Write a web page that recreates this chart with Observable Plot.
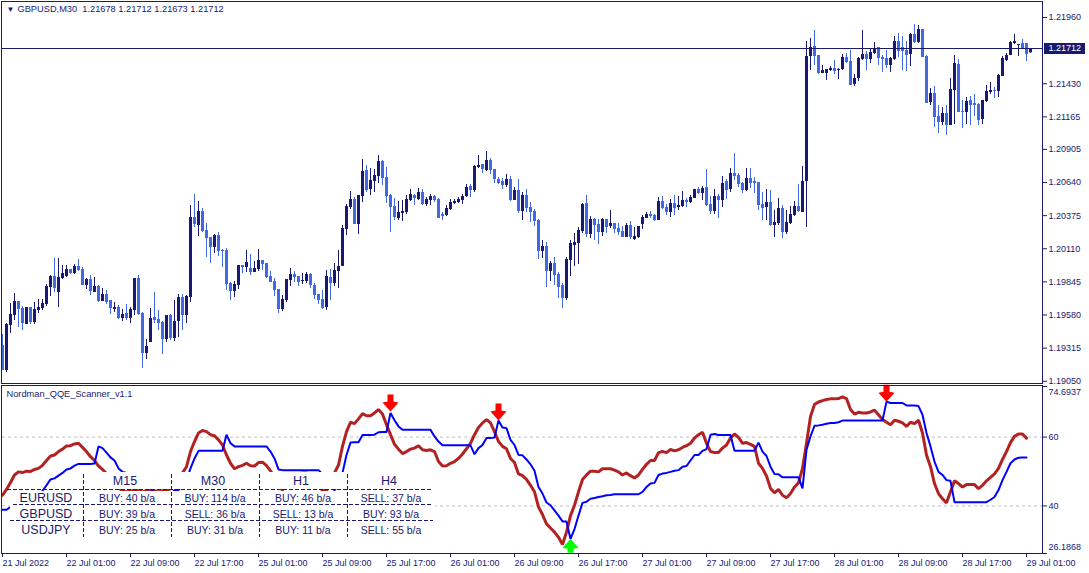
<!DOCTYPE html>
<html><head><meta charset="utf-8">
<script src="https://cdn.jsdelivr.net/npm/d3@7"></script>
<script src="https://cdn.jsdelivr.net/npm/@observablehq/plot@0.6"></script>
<style>
html,body{margin:0;padding:0;background:#fff;overflow:hidden}
#wrap{position:relative;width:1089px;height:573px;font-family:"Liberation Sans",Arial,sans-serif;color:#191970}
#wrap svg{position:absolute;left:0;display:block;overflow:visible}
.paper{position:absolute;background:#fff}
.cell{position:absolute;text-align:center;white-space:nowrap;line-height:16px;height:16px}
.dh{position:absolute;height:1px;background:repeating-linear-gradient(90deg,#191970 0 4px,transparent 4px 6px)}
.dv{position:absolute;width:1px;background:repeating-linear-gradient(180deg,#191970 0 4px,transparent 4px 6px)}
</style></head><body><div id="wrap"></div>
<script>
// GBPUSD M30 prices, in points above 1.19000
const basePrice = 1.19;
const opens = [336,136,496,576,688,632,504,640,520,616,
632,664,800,888,760,872,888,944,912,968,
944,816,864,760,808,688,744,696,624,640,
552,592,552,616,872,592,272,360,560,544,
520,384,576,392,528,720,576,720,1360,1296,
1408,1256,1200,1120,1216,1096,1096,832,768,816,
976,960,952,920,944,1016,992,888,848,784,
624,696,856,904,888,848,848,904,816,744,
704,640,880,832,928,968,1264,1440,1504,1304,
1528,1736,1584,1648,1688,1808,1680,1536,1448,1352,
1392,1400,1496,1536,1504,1560,1464,1496,1528,1504,
1384,1376,1424,1472,1480,1496,1528,1608,1576,1760,
1784,1736,1816,1744,1664,1648,1616,1664,1496,1576,
1408,1536,1440,1408,1336,1088,1128,928,992,904,
816,712,1016,1136,1152,1248,1472,1224,1344,1304,
1240,1344,1288,1312,1272,1248,1200,1296,1184,1200,
1304,1352,1384,1376,1336,1488,1440,1400,1472,1440,
1448,1496,1480,1512,1584,1552,1600,1464,1408,1528,
1496,1648,1584,1712,1696,1632,1576,1672,1648,1640,
1464,1440,1480,1296,1312,1432,1240,1312,1376,1448,
1400,1648,2648,2728,2656,2512,2512,2536,2552,2536,
2544,2640,2608,2424,2472,2624,2664,2624,2672,2720,
2640,2632,2576,2624,2768,2720,2696,2664,2824,2760,
2864,2648,2280,2352,2168,2120,2192,2096,2376,2584,
2208,2200,2296,2272,2264,2144,2288,2360,2376,2368,
2488,2616,2656,2752,2736,2752,2752,2678];
const closes = [136,504,584,688,624,512,640,520,624,640,
672,808,888,792,880,912,944,912,968,936,
816,864,768,808,688,744,680,632,640,552,
584,552,624,872,584,272,328,552,536,512,
384,576,392,528,720,576,728,1360,1304,1408,
1248,1192,1120,1216,1088,1088,824,768,824,976,
960,1000,920,952,1016,984,880,840,776,624,
704,864,904,880,840,856,904,816,736,696,
632,888,832,936,968,1272,1448,1504,1304,1536,
1728,1576,1656,1696,1808,1672,1528,1440,1360,1400,
1408,1504,1544,1512,1560,1464,1504,1528,1496,1352,
1368,1432,1480,1488,1504,1528,1600,1576,1768,1776,
1744,1816,1736,1664,1632,1616,1664,1496,1576,1408,
1536,1432,1400,1328,1088,1128,928,992,896,800,
712,1024,1152,1160,1256,1464,1224,1344,1296,1240,
1344,1280,1312,1264,1240,1200,1296,1200,1208,1288,
1360,1384,1368,1336,1488,1432,1400,1472,1432,1456,
1496,1480,1520,1584,1552,1592,1456,1408,1528,1496,
1632,1576,1712,1688,1624,1576,1672,1632,1632,1456,
1432,1480,1296,1320,1432,1240,1320,1384,1448,1408,
1648,2648,2720,2648,2512,2536,2544,2552,2528,2544,
2640,2600,2416,2472,2632,2664,2624,2680,2704,2632,
2624,2576,2632,2768,2688,2688,2656,2824,2760,2864,
2640,2272,2352,2160,2120,2192,2096,2384,2592,2200,
2200,2288,2256,2256,2136,2296,2368,2376,2368,2496,
2632,2656,2760,2768,2744,2704,2664,2712];
const highs = [424,512,672,752,688,648,640,640,680,704,
704,824,896,1032,1032,976,976,944,984,1024,
960,872,896,880,816,792,776,696,680,656,
624,664,640,872,896,600,384,632,760,616,
528,576,584,696,744,744,736,1456,1544,1488,
1432,1312,1200,1224,1240,1104,1112,840,848,976,
976,1096,1064,1008,1104,1016,992,928,872,784,
736,864,952,928,888,912,920,912,832,744,
776,936,944,992,1096,1296,1464,1568,1520,1536,
1824,1776,1752,1744,1856,1816,1760,1544,1512,1488,
1496,1536,1584,1544,1592,1584,1520,1544,1536,1512,
1400,1456,1504,1504,1520,1544,1624,1624,1776,1856,
1784,1888,1832,1744,1680,1672,1704,1688,1600,1664,
1560,1584,1480,1424,1344,1176,1160,1008,1040,920,
832,1040,1176,1232,1280,1472,1536,1368,1352,1344,
1352,1344,1416,1312,1312,1288,1312,1328,1280,1288,
1376,1400,1408,1384,1520,1528,1464,1504,1536,1528,
1568,1512,1536,1584,1600,1608,1744,1528,1584,1544,
1688,1664,1752,1872,1712,1640,1752,1752,1680,1640,
1560,1584,1576,1416,1512,1456,1416,1448,1488,1624,
1768,2768,2792,2856,2656,2576,2544,2568,2616,2552,
2664,2672,2696,2504,2640,2856,2688,2712,2760,2720,
2656,2696,2640,2808,2832,2808,2768,2832,2904,2896,
2864,2656,2392,2408,2256,2240,2256,2472,2656,2624,
2296,2320,2328,2344,2272,2296,2416,2440,2400,2504,
2648,2672,2768,2824,2744,2784,2752,2712];
const lows = [136,120,432,536,480,456,504,504,504,592,
616,648,728,760,640,864,880,904,904,928,
816,784,736,760,680,688,664,584,600,544,
528,536,512,576,576,152,224,360,512,456,
264,360,376,368,400,456,512,680,1280,1208,
1240,1040,992,1072,1048,960,776,696,720,784,
912,920,896,920,928,936,872,840,728,592,
608,680,808,840,808,824,832,792,704,664,
624,616,696,808,792,968,1216,1424,1304,1224,
1480,1560,1536,1560,1632,1616,1472,1240,1336,1336,
1328,1384,1488,1456,1496,1456,1448,1456,1480,1352,
1336,1368,1416,1464,1472,1464,1520,1520,1560,1752,
1712,1728,1704,1632,1624,1584,1600,1488,1496,1392,
1336,1400,1320,1288,1024,1032,800,848,816,712,
632,696,888,968,984,1232,1200,1192,1176,1144,
1208,1232,1272,1232,1216,1200,1200,1184,1176,1192,
1264,1352,1352,1328,1336,1424,1376,1360,1376,1416,
1440,1440,1472,1512,1544,1496,1448,1384,1384,1352,
1440,1504,1560,1656,1600,1552,1568,1592,1552,1416,
1336,1336,1288,1200,1296,1192,1224,1304,1368,1400,
1400,1280,2536,2576,2504,2512,2456,2528,2504,2464,
2536,2592,2416,2408,2448,2616,2536,2592,2664,2576,
2520,2552,2520,2616,2640,2536,2528,2568,2752,2752,
2640,2272,2256,2080,2032,2096,2016,2096,2104,2200,
2072,2104,2096,2168,2096,2104,2280,2344,2312,2320,
2488,2608,2656,2744,2648,2704,2608,2673];
// QQE lines
const qqeFast = [43.1,44.8,46.8,49.0,49.9,49.7,50.1,50.0,50.6,50.9,
51.8,53.2,54.5,54.8,55.8,56.5,57.4,57.5,58.0,58.2,
57.0,55.8,54.3,53.2,51.6,50.6,49.4,48.0,46.5,45.3,
44.4,44.1,44.3,44.6,44.4,44.1,44.4,44.6,44.4,44.1,
44.4,44.6,45.0,46.0,47.5,49.6,51.4,55.8,58.7,61.2,
61.9,61.6,60.7,60.4,59.2,57.7,54.8,52.4,50.8,51.4,
51.8,52.4,51.7,51.6,52.6,52.7,51.7,50.2,48.5,46.5,
44.6,46.0,47.5,48.5,49.2,49.6,49.6,48.7,47.0,45.5,
44.6,44.4,47.5,49.6,51.9,57.3,61.6,64.3,63.9,65.3,
66.8,66.2,66.2,67.0,68.0,66.7,63.6,60.7,57.9,56.5,
55.2,55.8,56.5,56.8,57.5,56.3,56.1,56.3,55.8,52.9,
51.6,51.7,52.4,52.9,53.8,55.1,56.6,58.2,60.7,62.8,
64.1,65.1,64.1,61.6,58.7,57.3,56.6,53.8,52.6,49.3,
48.8,47.7,46.0,44.1,39.7,37.5,34.8,33.6,32.4,30.9,
28.8,32.4,37.2,40.2,44.1,47.7,49.0,50.1,50.1,49.9,
50.8,50.8,50.8,50.4,49.9,49.0,49.6,48.8,48.1,49.0,
50.6,52.1,53.2,53.2,55.5,55.8,55.5,56.4,56.0,56.3,
57.0,57.5,58.2,59.7,60.7,61.4,58.2,55.8,55.5,55.5,
56.8,57.7,59.7,60.9,59.9,58.2,58.4,57.9,57.3,52.4,
50.9,48.7,45.1,43.8,44.8,43.1,42.4,43.6,45.5,46.7,
50.9,58.2,66.0,69.5,70.2,70.6,70.9,71.1,71.1,71.2,
71.7,71.2,68.0,66.7,67.2,67.0,67.0,67.3,67.8,66.5,
65.1,64.3,63.6,64.9,64.6,64.1,63.1,64.3,63.9,64.9,
61.2,54.8,51.4,46.5,43.6,42.1,40.9,44.1,47.3,46.5,
45.5,46.2,46.2,46.2,45.0,46.0,47.3,48.3,49.3,50.9,
53.5,55.8,58.4,60.2,60.9,60.9,59.7];
const qqeSlow = [38.9,38.9,39.7,40.7,41.6,42.1,42.6,42.6,42.8,43.1,
44.4,46.0,47.7,48.0,48.8,49.6,50.6,50.9,51.7,52.2,
52.2,52.2,52.2,52.3,57.3,56.8,55.5,54.1,53.2,50.9,
49.9,49.6,49.6,49.6,49.6,49.6,47.5,45.5,43.4,43.4,
43.4,43.4,43.4,44.6,44.6,46.0,47.5,50.9,53.8,56.0,
56.0,56.0,56.0,56.0,56.0,56.0,60.7,58.2,57.3,57.3,
57.3,57.3,57.3,57.3,57.3,57.3,57.3,55.8,53.8,50.6,
50.4,50.4,50.4,50.4,50.4,50.4,50.4,50.4,50.4,50.4,
49.3,47.5,45.5,44.6,46.0,49.6,54.8,58.4,58.5,58.5,
60.6,60.6,60.6,60.7,61.4,61.5,61.5,67.0,64.9,63.1,
62.1,62.1,62.1,62.1,62.1,62.1,62.1,62.1,60.2,58.7,
57.6,57.6,57.6,57.6,57.6,57.6,57.6,57.6,55.0,56.8,
57.7,59.7,59.7,59.9,64.8,62.8,62.6,59.2,57.7,54.8,
54.7,53.5,52.1,50.2,45.5,43.6,41.0,40.2,38.7,37.2,
35.5,35.5,30.4,33.3,37.2,40.9,41.2,42.1,42.3,42.6,
42.8,43.1,43.2,43.4,43.4,43.4,43.4,43.4,43.4,43.4,
44.1,45.5,46.5,46.7,49.0,49.4,49.6,49.9,50.2,50.4,
51.4,51.6,53.2,54.8,54.8,56.0,56.5,60.7,60.9,60.6,
60.6,60.6,60.6,56.0,56.0,56.0,56.0,56.0,56.0,58.4,
55.8,54.5,51.4,49.3,49.2,48.3,48.3,48.3,48.3,48.3,
45.1,56.3,60.2,63.3,63.4,63.6,63.9,64.1,64.1,64.3,
64.8,64.8,64.8,64.8,64.8,64.8,64.8,64.8,64.8,64.8,
64.8,70.3,69.9,69.9,69.9,69.9,69.2,69.2,69.2,69.0,
66.5,61.2,57.3,52.9,49.9,49.0,47.5,47.3,41.1,41.1,
41.1,41.1,41.1,41.1,41.1,41.1,41.1,41.8,42.6,44.6,
47.5,49.9,52.4,53.5,54.0,54.1,54.1];
// signal arrows
const sellBars = [97,124,221];
const sellLevels = [67.4,64.8,70.3];
const buyBars = [142];
const buyLevels = [30.5];
// axis labels
const priceTicks = [1.2196,1.2143,1.21165,1.20905,1.2064,1.20375,1.2011,1.19845,1.1958,1.19315,1.1905];
const lastPrice = 1.21712;
const qqeLevels = [60,40];
const qqeMax = 74.6937, qqeMin = 26.1868;
const timeBars = [0,16,32,48,64,80,96,112,128,144,160,176,192,208,224,240,256];
const timeLabels = ["21 Jul 2022","22 Jul 01:00","22 Jul 09:00","22 Jul 17:00","25 Jul 01:00","25 Jul 09:00","25 Jul 17:00","26 Jul 01:00","26 Jul 09:00","26 Jul 17:00","27 Jul 01:00","27 Jul 09:00","27 Jul 17:00","28 Jul 01:00","28 Jul 09:00","28 Jul 17:00","29 Jul 01:00"];
// scanner table
const scanFrames = ["M15","M30","H1","H4"];
const scanPairs = ["EURUSD","GBPUSD","USDJPY"];
const scanCells = [
 ["BUY: 40 b/a","BUY: 114 b/a","BUY: 46 b/a","SELL: 37 b/a"],
 ["BUY: 39 b/a","SELL: 36 b/a","SELL: 13 b/a","BUY: 93 b/a"],
 ["BUY: 25 b/a","BUY: 31 b/a","BUY: 11 b/a","SELL: 55 b/a"]];
const chartTitle = "GBPUSD,M30  1.21678 1.21712 1.21673 1.21712";
const indicatorTitle = "Nordman_QQE_Scanner_v1.1";

const NAVY="#191970", ROYAL="#4169E1", BROWN="#B22222", BLUE="#0000FF";
const FONT='"Liberation Sans",Arial,sans-serif';
const price = p => basePrice + p/1e5;
const bars = opens.map((o,i)=>({i,o:price(o),c:price(closes[i]),h:price(highs[i]),l:price(lows[i])}));
const isUp = d => d.c>=d.o, isDown = d => d.c<d.o;
const fastRows = qqeFast.map((v,i)=>({i,v})), slowRows = qqeSlow.map((v,i)=>({i,v}));
const xScale = {domain:[0,260], axis:null};
const wrap = document.getElementById("wrap");

function candleMarks(filter,color){
  return [
    Plot.ruleX(bars,{x:"i",y1:"l",y2:"h",stroke:color,strokeWidth:1,filter,clip:"frame"}),
    Plot.ruleX(bars,{x:"i",y1:"o",y2:"c",stroke:color,strokeWidth:3,filter,clip:"frame"})
  ];
}
const priceChart = Plot.plot({
  width:1089,height:384,marginLeft:2,marginRight:47,marginTop:1,marginBottom:1,
  style:{fontFamily:FONT,fontSize:"9px",color:NAVY,background:"transparent"},
  x:xScale,
  y:{domain:[price(32),price(3088)],axis:null},
  marks:[
    ...candleMarks(isDown,ROYAL),
    ...candleMarks(isUp,NAVY),
    Plot.ruleY([lastPrice],{stroke:NAVY,strokeWidth:1}),
    Plot.ruleY([lastPrice],{stroke:NAVY,strokeWidth:11,insetLeft:1042,insetRight:-43}),
    Plot.text([lastPrice],{y:d=>d,text:d=>d.toFixed(5),frameAnchor:"right",textAnchor:"start",dx:6,fill:"#fff",fontSize:9}),
    Plot.axisY(priceTicks,{anchor:"right",label:null,tickSize:4,tickPadding:2,tickFormat:d=>d.toFixed(5),fill:NAVY,stroke:NAVY}),
    Plot.frame({stroke:NAVY,insetLeft:-1}),
    Plot.text(["\u25BC"],{frameAnchor:"top-left",dx:4,dy:5,fill:NAVY,fontSize:8}),
    Plot.text([chartTitle],{frameAnchor:"top-left",dx:15,dy:4,fill:NAVY,fontSize:9.25})
  ]
});
priceChart.style.top="0px";
wrap.appendChild(priceChart);

const arrowDown = {draw(c){c.moveTo(-3,-17);c.lineTo(3,-17);c.lineTo(3,-10);c.lineTo(8,-9);c.lineTo(0,0);c.lineTo(-8,-9);c.lineTo(-3,-10);c.closePath();}};
const arrowUp = {draw(c){c.moveTo(-3,14);c.lineTo(3,14);c.lineTo(3,10);c.lineTo(8,9);c.lineTo(0,0);c.lineTo(-8,9);c.lineTo(-3,10);c.closePath();}};

const qqeChart = Plot.plot({
  width:1089,height:189,marginLeft:2,marginRight:47,marginTop:2,marginBottom:20,
  style:{fontFamily:FONT,fontSize:"9px",color:NAVY,background:"transparent"},
  x:xScale,
  y:{domain:[qqeMin,qqeMax],axis:null},
  marks:[
    Plot.ruleY(qqeLevels,{stroke:"#C0C0C0",strokeDasharray:"3,3"}),
    Plot.line(fastRows,{x:"i",y:"v",stroke:BROWN,strokeWidth:3,strokeLinejoin:"bevel",clip:"frame"}),
    Plot.line(slowRows,{x:"i",y:"v",stroke:BLUE,strokeWidth:2,strokeLinejoin:"bevel",clip:"frame"}),
    Plot.dot(sellBars,{x:d=>d,y:(d,i)=>sellLevels[i],symbol:arrowDown,r:4,fill:"#FF0000",stroke:"none"}),
    Plot.dot(buyBars,{x:d=>d,y:(d,i)=>buyLevels[i],symbol:arrowUp,r:4,fill:"#00FF00",stroke:"none"}),
    Plot.axisY([qqeMax,...qqeLevels,qqeMin],{anchor:"right",label:null,tickSize:4,text:null,stroke:NAVY}),
    Plot.axisY(qqeLevels,{anchor:"right",label:null,tickSize:0,tickPadding:6,tickFormat:d=>String(d),fill:NAVY}),
    Plot.axisY([qqeMax],{anchor:"right",label:null,tickSize:0,tickPadding:6,dy:6,tickFormat:d=>d.toFixed(4),fill:NAVY}),
    Plot.axisY([qqeMin],{anchor:"right",label:null,tickSize:0,tickPadding:6,dy:-6,tickFormat:d=>d.toFixed(4),fill:NAVY}),
    Plot.axisX(timeBars,{anchor:"bottom",label:null,tickSize:4,tickPadding:2,textAnchor:"start",tickFormat:d=>timeLabels[timeBars.indexOf(d)],fill:NAVY,stroke:NAVY}),
    Plot.frame({stroke:NAVY,insetLeft:-1,insetTop:-1}),
    Plot.text([indicatorTitle],{frameAnchor:"top-left",dx:4,dy:4,fill:NAVY,fontSize:9.25})
  ]
});
qqeChart.style.top="384px";
wrap.appendChild(qqeChart);

// scanner table, painted over the indicator lines
function put(cls,left,topY,w,h,text,size){
  const e=document.createElement("div"); e.className=cls;
  e.style.left=left+"px"; e.style.top=topY+"px";
  if(w!=null)e.style.width=w+"px"; if(h!=null)e.style.height=h+"px";
  if(text!=null){e.textContent=text;e.style.fontSize=size+"px";}
  wrap.appendChild(e);
}
put("paper",83,472,352,17);
put("paper",10,491,425,49);
const colX=[83,171,259,347], rowY=[490,505,521];
scanFrames.forEach((t,c)=>put("cell",colX[c]-2,473,88,null,t,12.5));
scanPairs.forEach((t,r)=>put("cell",6,[490,506,522][r],80,null,t,12.5));
scanCells.forEach((row,r)=>row.forEach((t,c)=>put("cell",colX[c],[490,506,522][r],88,null,t,10.5)));
rowY.forEach((y,r)=>put("dh",[7,13,10][r],y-1,433-[7,13,10][r],null));
colX.forEach(x=>put("dv",x,474,null,63));
</script></body></html>
